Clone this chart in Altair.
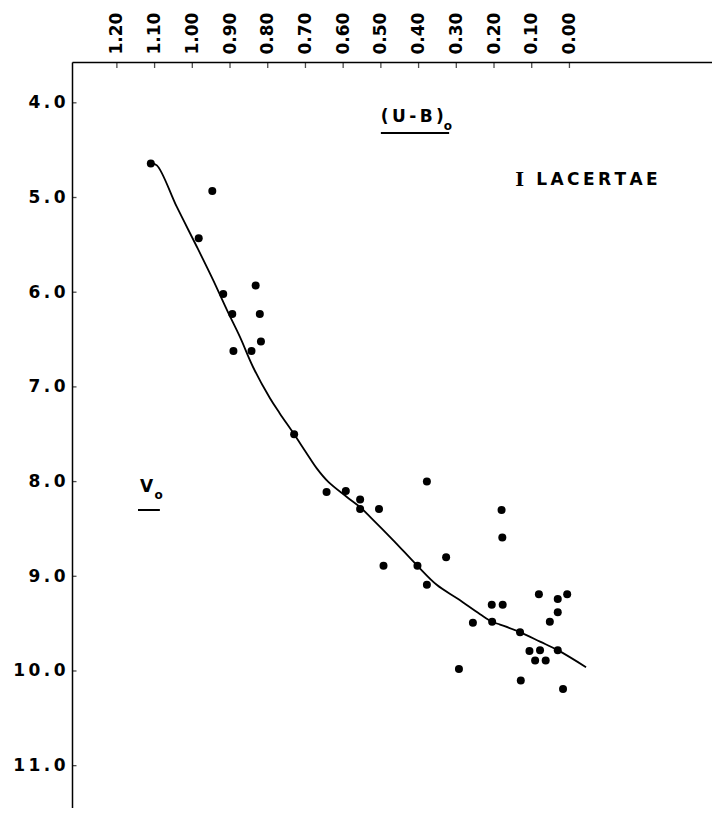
import altair as alt
import pandas as pd

# Data
ub = [1.110, 0.947, 0.983, 0.832, 0.918, 0.894, 0.821, 0.818, 0.891, 0.843,
      0.730, 0.644, 0.593, 0.555, 0.555, 0.505, 0.378, 0.493, 0.403, 0.327,
      0.378, 0.180, 0.178, 0.081, 0.006, 0.031, 0.031, 0.052, 0.206, 0.177,
      0.205, 0.256, 0.131, 0.106, 0.078, 0.031, 0.091, 0.063, 0.129, 0.017,
      0.293]
v0 = [4.64, 4.93, 5.43, 5.93, 6.02, 6.23, 6.23, 6.52, 6.62, 6.62,
      7.50, 8.11, 8.10, 8.19, 8.29, 8.29, 8.00, 8.89, 8.89, 8.80,
      9.09, 8.30, 8.59, 9.19, 9.19, 9.24, 9.38, 9.48, 9.30, 9.30,
      9.48, 9.49, 9.59, 9.79, 9.78, 9.78, 9.89, 9.89, 10.10, 10.19,
      9.98]

curve_ub = [1.110, 1.094, 1.041, 0.988, 0.945, 0.908, 0.874, 0.839, 0.794, 0.768,
            0.730, 0.697, 0.670, 0.640, 0.591, 0.555, 0.524, 0.467, 0.403, 0.352,
            0.295, 0.237, 0.205, 0.184, 0.131, 0.078, 0.031, -0.044]
curve_v = [4.64, 4.66, 5.10, 5.52, 5.87, 6.19, 6.47, 6.79, 7.12, 7.28,
           7.50, 7.70, 7.86, 8.00, 8.16, 8.27, 8.39, 8.62, 8.89, 9.09,
           9.24, 9.40, 9.48, 9.51, 9.59, 9.69, 9.78, 9.96]

x_ticks = [1.2, 1.1, 1.0, 0.9, 0.8, 0.7, 0.6, 0.5, 0.4, 0.3, 0.2, 0.1, 0.0]
y_ticks = [4.0, 5.0, 6.0, 7.0, 8.0, 9.0, 10.0, 11.0]

x_domain = [-0.378, 1.319]
y_domain = [3.569, 11.447]

FONT = "DejaVu Sans"
TS = "\u2009"  # thin space used as letter spacing

pts = pd.DataFrame({"ub": ub, "v": v0})
crv = pd.DataFrame({"ub": curve_ub, "v": curve_v, "o": list(range(len(curve_ub)))})
xt = pd.DataFrame({"ub": x_ticks})
yt = pd.DataFrame({"v": y_ticks})

xs = alt.Scale(domain=x_domain, reverse=True, nice=False, zero=False)
ys = alt.Scale(domain=y_domain, reverse=True, nice=False, zero=False)

x_axis = alt.Axis(orient="top", values=x_ticks, format=".2f", labelAngle=270,
                  labelAlign="left", labelBaseline="middle", labelPadding=8,
                  ticks=False, tickSize=0, labelFont=FONT, labelFontWeight="bold",
                  labelFontSize=17, labelColor="black", domainColor="black",
                  domainWidth=1.5, grid=False, title="", labelOverlap=False,
                  labelFlush=False)
y_axis = alt.Axis(orient="left", values=y_ticks, format=".1f", labelPadding=7,
                  ticks=False, tickSize=0, labelFont=FONT, labelFontWeight="bold",
                  labelFontSize=17, labelColor="black", domainColor="black",
                  domainWidth=1.5, grid=False, title="", labelOverlap=False,
                  labelFlush=False,
                  labelExpr="join(split(datum.label, ''), '\u2009')")

points = alt.Chart(pts).mark_circle(size=64, color="black", opacity=1).encode(
    x=alt.X("ub:Q", scale=xs, axis=x_axis, title=""),
    y=alt.Y("v:Q", scale=ys, axis=y_axis, title=""),
)

line = alt.Chart(crv).mark_line(color="black", strokeWidth=1.8,
                                interpolate="catmull-rom").encode(
    x=alt.X("ub:Q", scale=xs, title=""),
    y=alt.Y("v:Q", scale=ys, title=""),
    order="o:Q",
)

xtick_marks = alt.Chart(xt).mark_tick(color="black", size=12, thickness=1.3,
                                      clip=True).encode(
    x=alt.X("ub:Q", scale=xs, title=""),
    y=alt.value(0),
)
ytick_marks = alt.Chart(yt).mark_tick(color="black", size=9, thickness=1.3,
                                      clip=True).encode(
    y=alt.Y("v:Q", scale=ys, title=""),
    x=alt.value(0),
)

labels = pd.DataFrame({
    "ub": [0.500, 0.333, 0.144, 0.088, 1.139, 1.100],
    "v": [4.15, 4.25, 4.82, 4.82, 8.06, 8.14],
    "t": [TS.join("(U-B)"), "o", "I", TS.join("LACERTAE"), "V", "o"],
    "k": ["main", "sub", "serif", "main", "main", "sub"],
})

def text_layer(df, font, size):
    return alt.Chart(df).mark_text(align="left", baseline="middle", font=font,
                                   fontSize=size, fontWeight="bold",
                                   color="black").encode(
        x=alt.X("ub:Q", scale=xs, title=""),
        y=alt.Y("v:Q", scale=ys, title=""),
        text="t:N",
    )

t_main = text_layer(labels[labels.k == "main"], FONT, 17)
t_sub = text_layer(labels[labels.k == "sub"], FONT, 12)
t_serif = text_layer(labels[labels.k == "serif"], "DejaVu Serif", 19)

ul = pd.DataFrame({"x1": [0.500, 1.144], "x2": [0.319, 1.086], "v": [4.32, 8.30]})
underline = alt.Chart(ul).mark_rule(color="black", strokeWidth=2).encode(
    x=alt.X("x1:Q", scale=xs, title=""),
    x2="x2:Q",
    y=alt.Y("v:Q", scale=ys, title=""),
)

chart = alt.layer(points, line, xtick_marks, ytick_marks, t_main, t_sub,
                  t_serif, underline).properties(
    width=640, height=746,
    padding={"left": 64, "top": 54, "right": 0, "bottom": 0},
    autosize=alt.AutoSizeParams(type="none"),
).configure_view(stroke=None).configure(background="white")

chart.save("out.html", embed_options={"renderer": "svg", "actions": False})
